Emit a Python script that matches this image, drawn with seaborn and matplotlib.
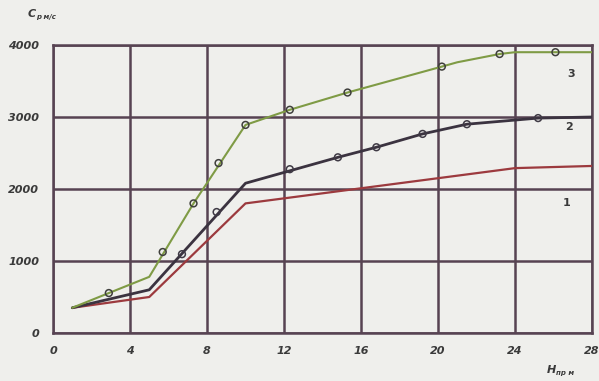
import matplotlib
matplotlib.use("Agg")
import matplotlib.pyplot as plt
import seaborn as sns
import pandas as pd

# Curve vertices: H (m) vs C (m/s)
h1 = [1.0, 5.0, 10.0, 16.0, 24.0, 28.0]
c1 = [350, 500, 1800, 2010, 2290, 2320]

h2 = [1.0, 5.0, 10.0, 14.8, 16.8, 19.2, 21.5, 25.2, 28.0]
c2 = [350, 600, 2080, 2440, 2580, 2765, 2900, 2985, 3000]

h3 = [1.0, 2.9, 5.0, 7.3, 10.0, 12.3, 15.3, 20.2, 21.0, 23.2, 24.0, 28.0]
c3 = [350, 555, 780, 1800, 2890, 3100, 3340, 3700, 3760, 3875, 3900, 3900]

# Measured points (open circles)
m2_h = [6.7, 8.5, 12.3, 14.8, 16.8, 19.2, 21.5, 25.2]
m2_c = [1095, 1680, 2275, 2440, 2580, 2765, 2900, 2985]
m3_h = [2.9, 5.7, 7.3, 8.6, 10.0, 12.3, 15.3, 20.2, 23.2, 26.1]
m3_c = [555, 1125, 1800, 2360, 2890, 3100, 3340, 3700, 3875, 3900]

x_ticks = [0, 4, 8, 12, 16, 20, 24, 28]
y_ticks = [0, 1000, 2000, 3000, 4000]
curve_labels = ["1", "2", "3"]

paper = "#efefec"
grid_col = "#574352"
col1 = "#9c3a3e"
col2 = "#3b3340"
col3 = "#7f9b45"

sns.set_theme(style="white")
fig = plt.figure(figsize=(5.99, 3.81), dpi=100, facecolor=paper)
ax = fig.add_axes([53 / 599, (381 - 333) / 381, (592 - 53) / 599, (333 - 45) / 381])
ax.set_facecolor(paper)

df1 = pd.DataFrame({"H": h1, "C": c1})
df2 = pd.DataFrame({"H": h2, "C": c2})
df3 = pd.DataFrame({"H": h3, "C": c3})
sns.lineplot(data=df1, x="H", y="C", ax=ax, color=col1, lw=1.6, sort=False, zorder=3)
sns.lineplot(data=df2, x="H", y="C", ax=ax, color=col2, lw=2.0, sort=False, zorder=3)
sns.lineplot(data=df3, x="H", y="C", ax=ax, color=col3, lw=1.5, sort=False, zorder=3)

sns.scatterplot(x=m2_h, y=m2_c, ax=ax, s=24, facecolor="none", edgecolor="#3f3a45",
                linewidth=1.1, zorder=4)
sns.scatterplot(x=m3_h, y=m3_c, ax=ax, s=24, facecolor="none", edgecolor="#3f3f3c",
                linewidth=1.1, zorder=4)

ax.set_xlim(0, 28)
ax.set_ylim(0, 4000)
ax.set_xticks(x_ticks)
ax.set_yticks(y_ticks)
ax.grid(True, color=grid_col, lw=1.8, zorder=1)
for s in ax.spines.values():
    s.set_color(grid_col)
    s.set_linewidth(1.8)
ax.tick_params(length=0)
ax.set_xticklabels([str(v) for v in x_ticks], fontsize=8, fontweight="bold",
                   fontstyle="italic", color="#3a3a3a")
ax.set_yticklabels([str(v) for v in y_ticks], fontsize=8, fontweight="bold",
                   fontstyle="italic", color="#3a3a3a")
ax.tick_params(axis="y", pad=10)
ax.tick_params(axis="x", pad=9)
ax.set_xlabel("")
ax.set_ylabel("")

# Curve numbers
for lbl, (xx, yy) in zip(curve_labels, [(26.7, 1810), (26.8, 2860), (26.9, 3600)]):
    ax.text(xx, yy, lbl, fontsize=8, fontweight="bold", color="#3a3a3a",
            ha="center", va="center")

# Axis titles
fig.text(28 / 599, 1 - 14 / 381, "C", fontsize=8, fontweight="bold",
         fontstyle="italic", color="#3a3a3a", ha="left", va="center")
fig.text(36 / 599, 1 - 17 / 381, "р м/с", fontsize=5, fontweight="bold",
         fontstyle="italic", color="#3a3a3a", ha="left", va="center")
fig.text(547 / 599, 1 - 370 / 381, "H", fontsize=8, fontweight="bold",
         fontstyle="italic", color="#3a3a3a", ha="left", va="center")
fig.text(556 / 599, 1 - 373 / 381, "пр м", fontsize=5, fontweight="bold",
         fontstyle="italic", color="#3a3a3a", ha="left", va="center")

fig.savefig("out.png", dpi=100, facecolor=paper)
